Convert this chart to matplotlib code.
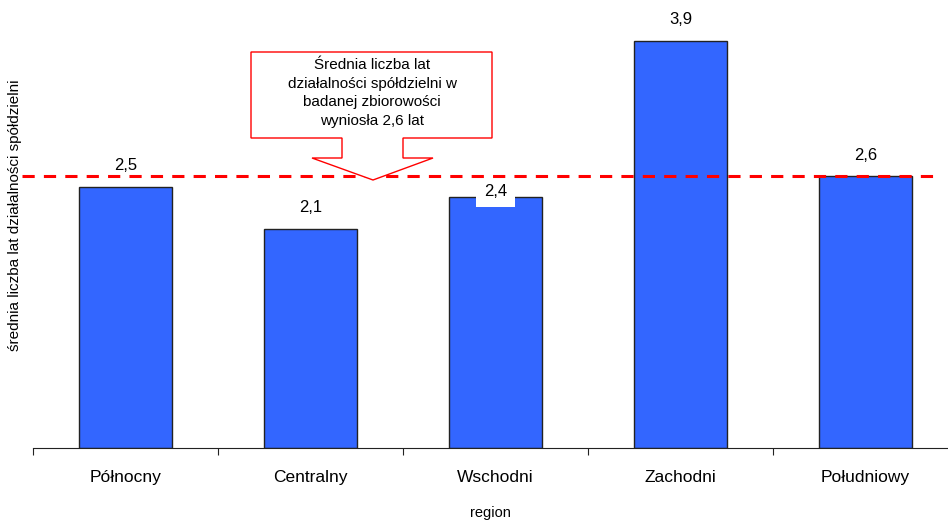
import numpy as np
import matplotlib.pyplot as plt
from matplotlib.patches import Polygon

plt.rcParams['font.family'] = ['Liberation Sans', 'DejaVu Sans']

regions = ['Północny', 'Centralny', 'Wschodni', 'Zachodni', 'Południowy']
values = [2.5, 2.1, 2.4, 3.9, 2.6]
labels = ['2,5', '2,1', '2,4', '3,9', '2,6']
mean_value = 2.6
callout_text = 'Średnia liczba lat\ndziałalności spółdzielni w\nbadanej zbiorowości\nwyniosła 2,6 lat'

fig = plt.figure(figsize=(9.48, 5.22), dpi=100)
# axes run a bit past the right edge of the figure, as in the original
ax = fig.add_axes([33 / 948, 74 / 522, 925 / 948, 448 / 522])

x = np.arange(len(regions))
ax.bar(x, values, width=0.5, color='#3366FF', edgecolor='#222222', linewidth=1, zorder=2)

# mean line, slightly beyond the left axis edge
ax.plot([-0.56, 4.40], [mean_value, mean_value], color='#FF0000', linewidth=2.2,
        dashes=(4, 3), clip_on=False, zorder=3)

for i, (v, lab) in enumerate(zip(values, labels)):
    if lab == '2,4':
        # this label sits lower, on a white box, under the mean line
        ax.annotate(lab, (i, v), xytext=(0, 6), textcoords='offset pixels',
                    ha='center', va='center', fontsize=12, zorder=2.5,
                    bbox=dict(facecolor='white', edgecolor='none', pad=6))
    else:
        ax.annotate(lab, (i, v), xytext=(0, 21), textcoords='offset pixels',
                    ha='center', va='center', fontsize=12, zorder=4)

# callout box with arrow (axes fraction coords)
def px(xp, yp):
    return ((xp - 33) / 925, 1 - yp / 448)

pts = [px(251, 52), px(492, 52), px(492, 138), px(403, 138), px(403, 158), px(433, 158),
       px(373, 180), px(312, 158), px(342, 158), px(342, 138), px(251, 138)]
ax.add_patch(Polygon(pts, closed=True, transform=ax.transAxes, facecolor='white',
                     edgecolor='#FF0000', linewidth=1, zorder=5))
ax.text(px(372, 0)[0], px(0, 93)[1], callout_text, transform=ax.transAxes, ha='center',
        va='center', fontsize=11, linespacing=1.45, zorder=6)

ax.set_xlim(-0.5, 4.5)
ax.set_ylim(0, 4.29)
ax.set_yticks([])
ax.set_xticks(np.arange(-0.5, 5.0, 1.0), minor=False)
ax.set_xticklabels([])
ax.set_xticks(x, minor=True)
ax.set_xticklabels(regions, minor=True, fontsize=12.5)
ax.tick_params(axis='x', which='major', length=5, direction='out', color='#222222')
ax.tick_params(axis='x', which='minor', length=0, pad=16)

for s in ['top', 'right', 'left']:
    ax.spines[s].set_visible(False)
ax.spines['bottom'].set_color('#222222')

fig.text(490 / 948, 1 - 513 / 522, 'region', ha='center', va='center', fontsize=10.5)
fig.text(0.016, 1 - 215 / 522, 'średnia liczba lat działalności spółdzielni', rotation=90,
         ha='center', va='center', fontsize=11)

fig.savefig('out.png', dpi=100)
